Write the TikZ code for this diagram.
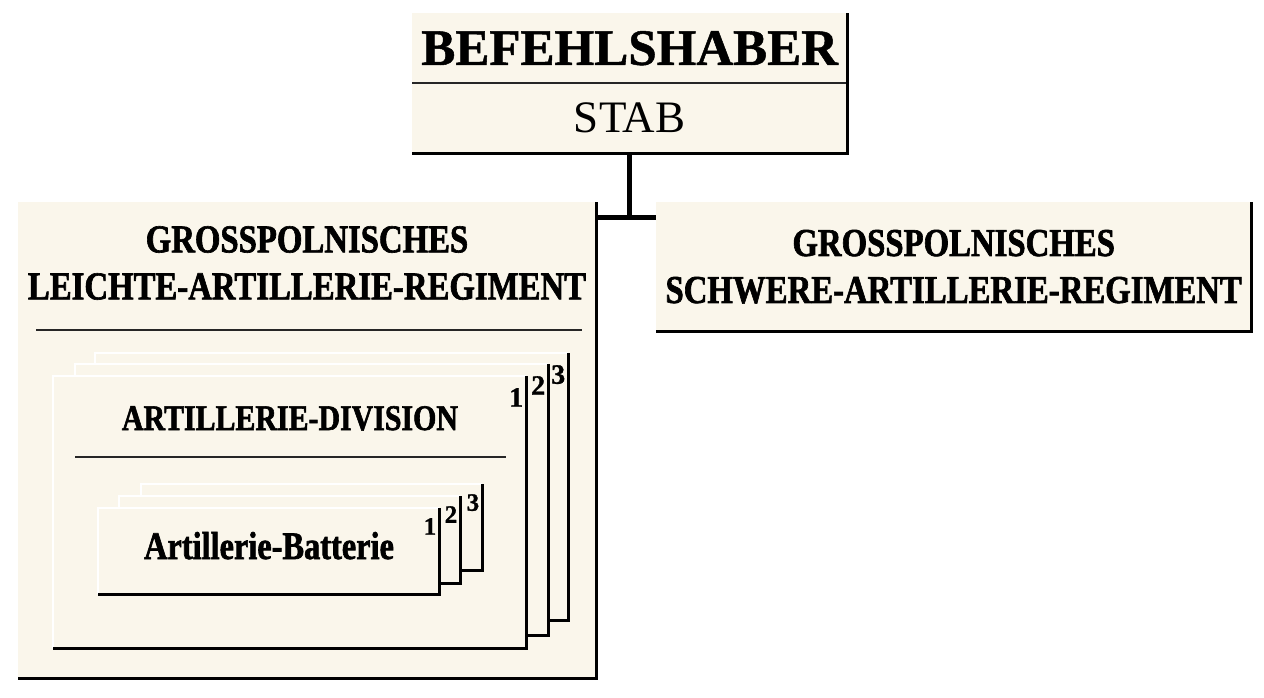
\documentclass[tikz,border=0pt]{standalone}
\usepackage{fontspec}
\setmainfont{Liberation Serif}[BoldFeatures={FakeBold=1}]
\newfontfamily\narrowfont[FakeStretch=0.83, BoldFeatures={FakeBold=1.6}]{Liberation Serif}
\definecolor{cream}{RGB}{250,246,235}

\begin{document}
\begin{tikzpicture}[x=1pt,y=-1pt,
    box/.style={fill=cream, inner sep=0pt, anchor=north west},
    shadow/.style={line width=2.5pt},
    glint/.style={white, line width=2pt},
    rule/.style={line width=1.3pt, black!85},
    conn/.style={line width=5pt},
    head/.style={font=\narrowfont\bfseries\fontsize{39.5}{47}\selectfont, align=center},
    num/.style={anchor=north east, inner sep=0pt, font=\bfseries\fontsize{#1}{#1}\selectfont}]
  \useasboundingbox (0,0) rectangle (1264,697);

  \node[box, minimum width=435pt, minimum height=70pt, font=\bfseries\fontsize{51}{60}\selectfont] (befehl) at (412,13) {BEFEHLSHABER};
  \node[box, minimum width=435pt, minimum height=70pt, font=\fontsize{45}{54}\selectfont] (stab) at (412,83) {STAB};
  \draw[rule] (stab.north west) -- (stab.north east);
  \draw[shadow] (befehl.north east) |- (stab.south west);

  \node[box, minimum width=578pt, minimum height=476pt] (leicht) at (18,202) {};
  \node[head] (leicht-t) at (307,263) {GROSSPOLNISCHES\\LEICHTE-ARTILLERIE-REGIMENT};
  \draw[shadow] (leicht.north east) |- (leicht.south west);
  \draw[rule] ([xshift=18pt,yshift=-128pt]leicht.north west) -- ([xshift=-14pt,yshift=-128pt]leicht.north east);

  \node[box, minimum width=595pt, minimum height=129pt, head] (schwer) at (656,202) {GROSSPOLNISCHES\\SCHWERE-ARTILLERIE-REGIMENT};
  \draw[shadow] (schwer.north east) |- (schwer.south west);

  \coordinate (tee) at ([yshift=-15pt]schwer.north west);
  \draw[conn] (stab.south) -- (stab.south |- tee);
  \draw[conn] (leicht.north east |- tee) -- (tee);

  \foreach \i/\x/\y/\h in {3/95/353/267, 2/75/364/271, 1/53/376/272} {
    \node[box, minimum width=473pt, minimum height=\h pt] (div\i) at (\x,\y) {};
    \draw[glint] (div\i.south west) |- (div\i.north east);
    \draw[shadow] (div\i.north east) |- (div\i.south west);
    \node[num=28] at ([xshift=-3pt,yshift=-12pt]div\i.north east) {\i};
  }
  \node[anchor=base, font=\narrowfont\bfseries\fontsize{36}{42}\selectfont] (div-t) at (290,430) {ARTILLERIE-DIVISION};
  \draw[rule] ([xshift=22pt,yshift=-81pt]div1.north west) -- ([xshift=-20pt,yshift=-81pt]div1.north east);

  \foreach \i/\x/\y/\h in {3/141/484/86, 2/119/496/87, 1/98/508/86} {
    \node[box, minimum width=341pt, minimum height=\h pt] (bat\i) at (\x,\y) {};
    \draw[glint] (bat\i.south west) |- (bat\i.north east);
    \draw[shadow] (bat\i.north east) |- (bat\i.south west);
    \node[num=25] at ([xshift=-3pt,yshift=-10pt]bat\i.north east) {\i};
  }
  \node[anchor=base, font=\narrowfont\bfseries\fontsize{39}{46}\selectfont] (bat-t) at (269,559) {Artillerie-Batterie};
\end{tikzpicture}
\end{document}
